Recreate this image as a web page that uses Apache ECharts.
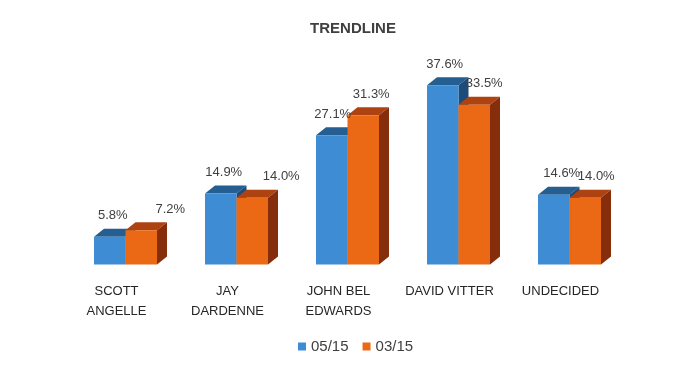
<!DOCTYPE html>
<html>
<head>
<meta charset="utf-8">
<script src="https://cdn.jsdelivr.net/npm/echarts@6/dist/echarts.min.js"></script>
<style>html,body{margin:0;padding:0;background:#fff}#c{width:682px;height:382px}</style>
</head>
<body>
<div id="c"></div>
<script>
const categories = ['SCOTT\nANGELLE', 'JAY\nDARDENNE', 'JOHN BEL\nEDWARDS', 'DAVID VITTER', 'UNDECIDED'];
const seriesNames = ['05/15', '03/15'];
const may15 = [5.8, 14.9, 27.1, 37.6, 14.6];
const mar15 = [7.2, 14.0, 31.3, 33.5, 14.0];

// styling (not data)
const faces = [
  { front: '#3E8CD3', top: '#255E91', side: '#1E4C78' },
  { front: '#EB6915', top: '#AE4210', side: '#862D0C' }
];
const labelNudge = [[3, 3, 1, 2, 8], [29, 29, 8, 10, 11]];
const BAR_W = 31.5, DX = 10, DY = 8, PAIR_OFF = -22.5;
const FONT = '"Liberation Sans", Arial, sans-serif';

const chart = echarts.init(document.getElementById('c'));

function renderItem(params, api) {
  const s = params.seriesIndex;
  const idx = api.value(0), val = api.value(1);
  const top = api.coord([idx, val]);
  const base = api.coord([idx, 0]);
  const x0 = base[0] + PAIR_OFF + s * BAR_W;
  const x1 = x0 + BAR_W;
  const yT = top[1], yB = base[1];
  const f = faces[s];
  const label = val.toFixed(1) + '%';
  return {
    type: 'group',
    children: [
      { type: 'polygon', shape: { points: [[x0, yT], [x0 + DX, yT - DY], [x1 + DX, yT - DY], [x1, yT]] }, style: { fill: f.top } },
      { type: 'polygon', shape: { points: [[x1, yT], [x1 + DX, yT - DY], [x1 + DX, yB - DY], [x1, yB]] }, style: { fill: f.side } },
      { type: 'rect', shape: { x: x0, y: yT, width: BAR_W, height: yB - yT }, style: { fill: f.front } },
      { type: 'text', z2: 10, style: { text: label, x: (x0 + x1) / 2 + labelNudge[s][idx], y: yT - 21, align: 'center', verticalAlign: 'middle', fill: '#404040', font: '13px ' + FONT } }
    ]
  };
}

function toData(arr) { return arr.map((v, i) => [i, v]); }

chart.setOption({
  animation: false,
  title: {
    text: 'TRENDLINE', left: 348, top: 16, textAlign: 'center',
    textStyle: { fontFamily: FONT, fontSize: 15, fontWeight: 'bold', color: '#404040' }
  },
  legend: {
    data: seriesNames.map((n, i) => ({ name: n, itemStyle: { color: faces[i].front } })),
    left: 293, top: 334, icon: 'rect', itemWidth: 8, itemHeight: 8, itemGap: 14,
    textStyle: { fontFamily: FONT, fontSize: 15, color: '#404040' }
  },
  grid: { left: 61, right: 66, top: 73.7, bottom: 117.5 },
  xAxis: {
    type: 'category', data: categories,
    axisLine: { show: false }, axisTick: { show: false },
    axisLabel: { interval: 0, margin: 17, lineHeight: 20, fontSize: 13, color: '#262626', fontFamily: FONT }
  },
  yAxis: { type: 'value', min: 0, max: 40, show: false, splitLine: { show: false } },
  series: [
    { name: seriesNames[0], type: 'custom', renderItem, data: toData(may15), itemStyle: { color: faces[0].front }, encode: { x: 0, y: 1 } },
    { name: seriesNames[1], type: 'custom', renderItem, data: toData(mar15), itemStyle: { color: faces[1].front }, encode: { x: 0, y: 1 } }
  ]
});
</script>
</body>
</html>
